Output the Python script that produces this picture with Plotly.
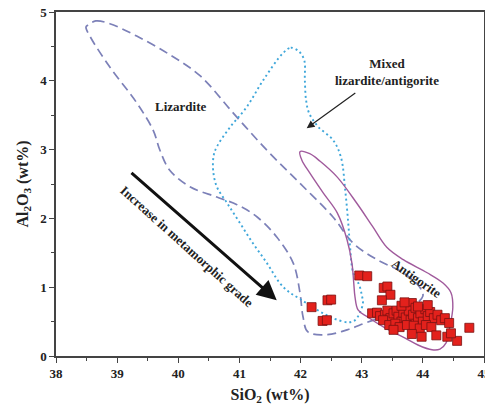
import plotly.graph_objects as go

# Field outlines (SiO2, Al2O3 in wt%)
lizardite_x = [38.52, 38.65, 38.88, 39.32, 39.86, 40.36, 40.90, 41.45, 41.99, 42.53, 42.86, 43.25, 43.68, 43.95, 44.00,
               43.79, 43.46, 43.09, 42.76, 42.43, 42.12, 42.04, 41.99, 41.88, 41.61, 41.29, 40.96, 40.63, 40.19,
               39.86, 39.70, 39.59, 39.32, 38.88, 38.56, 38.49, 38.52]
lizardite_y = [4.81, 4.87, 4.83, 4.65, 4.38, 4.07, 3.53, 2.99, 2.51, 2.02, 1.64, 1.40, 1.21, 1.00, 0.87,
               0.70, 0.60, 0.49, 0.38, 0.31, 0.35, 0.57, 0.92, 1.35, 1.73, 2.02, 2.20, 2.31, 2.46,
               2.70, 2.99, 3.28, 3.68, 4.20, 4.64, 4.78, 4.81]

mixed_x = [41.71, 41.84, 41.97, 42.06, 42.07, 42.09, 42.14, 42.29, 42.53, 42.66, 42.73, 42.78, 42.81, 42.86, 42.96,
           43.00, 43.02, 42.97, 42.89, 42.78, 42.53, 42.27, 41.99, 41.81, 41.66, 41.45, 41.22, 41.01, 40.80,
           40.63, 40.57, 40.58, 40.63, 40.85, 41.12, 41.39, 41.71]
mixed_y = [4.40, 4.48, 4.43, 4.30, 4.01, 3.72, 3.53, 3.33, 3.14, 2.89, 2.41, 1.93, 1.58, 1.21, 1.03,
           0.89, 0.77, 0.63, 0.52, 0.49, 0.55, 0.67, 0.83, 0.93, 1.06, 1.35, 1.64, 1.93, 2.22,
           2.46, 2.70, 2.92, 3.04, 3.33, 3.62, 4.01, 4.40]

antigorite_x = [41.99, 42.15, 42.32, 42.60, 42.92, 43.18, 43.41, 43.68, 44.07, 44.33, 44.46, 44.49, 44.44, 44.38,
                44.28, 44.15, 43.92, 43.71, 43.38, 43.09, 42.94, 42.89, 42.87, 42.84, 42.76, 42.60, 42.37,
                42.15, 42.02, 41.99]
antigorite_y = [2.97, 2.94, 2.83, 2.60, 2.22, 1.88, 1.58, 1.40, 1.21, 1.06, 0.92, 0.71, 0.42, 0.19,
                0.10, 0.09, 0.16, 0.26, 0.41, 0.57, 0.67, 0.86, 1.06, 1.35, 1.69, 2.08, 2.37,
                2.66, 2.85, 2.97]

# Samples
sio2 = [42.18, 42.44, 42.50, 42.36, 42.43, 42.96, 43.09, 43.36, 43.42, 43.47, 43.33, 43.82,
        43.17, 43.25, 43.30, 43.38, 43.42, 43.47, 43.52, 43.57, 43.60, 43.65, 43.68, 43.72, 43.77, 43.80,
        43.84, 43.88, 43.92, 43.96, 44.00, 44.04, 44.08, 44.12, 44.18, 44.24, 44.30, 44.36, 44.43,
        43.35, 43.45, 43.55, 43.62, 43.74, 43.85, 43.95, 44.05, 44.14, 43.52, 43.82, 43.98, 44.22,
        44.40, 44.56, 44.76, 44.46,
        43.92, 43.65, 44.08, 43.70]
al2o3 = [0.71, 0.81, 0.82, 0.51, 0.52, 1.17, 1.16, 0.99, 1.01, 0.89, 0.81, 0.77,
         0.62, 0.63, 0.58, 0.60, 0.66, 0.55, 0.62, 0.66, 0.57, 0.50, 0.63, 0.56, 0.66, 0.52,
         0.60, 0.70, 0.55, 0.62, 0.50, 0.68, 0.58, 0.64, 0.55, 0.60, 0.52, 0.55, 0.48,
         0.52, 0.45, 0.47, 0.42, 0.45, 0.44, 0.40, 0.45, 0.42, 0.38, 0.32, 0.28, 0.30,
         0.28, 0.22, 0.41, 0.33,
         0.72, 0.73, 0.74, 0.78]

x_ticks = [38, 39, 40, 41, 42, 43, 44, 45]
y_ticks = [0, 1, 2, 3, 4, 5]

SERIF = "Liberation Serif, Times New Roman, serif"

fig = go.Figure()
fig.add_trace(go.Scatter(x=lizardite_x, y=lizardite_y, mode="lines", line_shape="spline",
                         line=dict(color="#7C80B8", width=1.7, dash="9px,5px"), hoverinfo="skip"))
fig.add_trace(go.Scatter(x=mixed_x, y=mixed_y, mode="lines", line_shape="spline",
                         line=dict(color="#3FA7DA", width=1.9, dash="2px,3px"), hoverinfo="skip"))
fig.add_trace(go.Scatter(x=antigorite_x, y=antigorite_y, mode="lines", line_shape="spline",
                         line=dict(color="#A05A9C", width=1.4), hoverinfo="skip"))
fig.add_trace(go.Scatter(x=sio2, y=al2o3, mode="markers",
                         marker=dict(symbol="square", size=9, color="#E3211C",
                                     line=dict(color="#7A1212", width=0.8))))

bold = dict(family=SERIF, size=13, color="#222222", weight="bold")
fig.add_annotation(x=40.03, y=3.62, text="Lizardite", showarrow=False, font=bold)
fig.add_annotation(x=43.90, y=1.13, text="Antigorite", showarrow=False, font=bold, textangle=35)
fig.add_annotation(x=43.41, y=4.13, text="Mixed<br>lizardite/antigorite", showarrow=False,
                   font=bold)
fig.add_annotation(x=42.10, y=3.31, ax=42.92, ay=3.84, axref="x", ayref="y", text="",
                   showarrow=True, arrowhead=2, arrowsize=1.3, arrowwidth=1.2, arrowcolor="#222222")
fig.add_annotation(x=41.61, y=0.81, ax=39.21, ay=2.68, axref="x", ayref="y", text="",
                   showarrow=True, arrowhead=2, arrowsize=1.3, arrowwidth=3, arrowcolor="#111111")
fig.add_annotation(x=40.14, y=1.59, text="Increase in metamorphic grade", showarrow=False,
                   font=bold, textangle=42)

axis_common = dict(showline=True, mirror=True, linecolor="#444444", linewidth=1.5,
                   ticks="outside", ticklen=5, tickwidth=1.2, tickcolor="#444444",
                   showgrid=False, zeroline=False, automargin=False, ticklabeloverflow="allow",
                   tickfont=dict(family=SERIF, size=13, color="#222222", weight="bold"))

fig.update_xaxes(range=[38, 45], tickvals=x_ticks, ticktext=[str(v) for v in x_ticks],
                 minor=dict(ticks="outside", ticklen=3, tickcolor="#444444", dtick=0.5, tick0=38),
                 title=dict(text="SiO<sub>2</sub> (wt%)", standoff=8,
                            font=dict(family=SERIF, size=16, color="#222222", weight="bold")),
                 **axis_common)
fig.update_yaxes(range=[0, 5], tickvals=y_ticks, ticktext=[str(v) for v in y_ticks],
                 minor=dict(ticks="outside", ticklen=3, tickcolor="#444444", dtick=0.5, tick0=0),
                 title=dict(text="Al<sub>2</sub>O<sub>3</sub> (wt%)", standoff=8,
                            font=dict(family=SERIF, size=16, color="#222222", weight="bold")),
                 **axis_common)

# The page body adds an 8px margin, so the figure is sized to fill the rest of the window.
fig.update_layout(width=485, height=406, margin=dict(l=48, r=9, t=4, b=58, autoexpand=False),
                  paper_bgcolor="white", plot_bgcolor="white", showlegend=False)

fig.write_html("out.html")
